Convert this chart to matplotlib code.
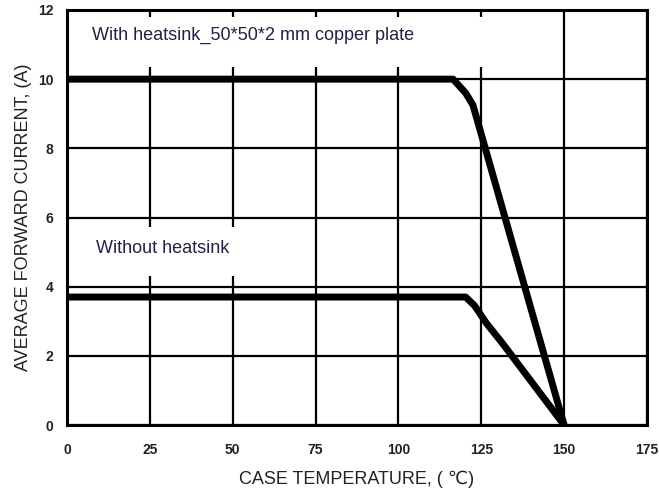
import matplotlib
matplotlib.use("Agg")
import matplotlib.pyplot as plt
from matplotlib.patches import Rectangle

# derating curves
temp_hs    = [0, 116.5, 120.3, 122.5, 150]
current_hs = [10, 10, 9.6, 9.25, 0]

temp_nohs    = [0, 120.3, 123.0, 126.5, 131.5, 150]
current_nohs = [3.7, 3.7, 3.45, 2.95, 2.35, 0]

xticks = [0, 25, 50, 75, 100, 125, 150, 175]
yticks = [0, 2, 4, 6, 8, 10, 12]

plt.rcParams["font.family"] = ["Liberation Sans", "DejaVu Sans"]

fig = plt.figure(figsize=(6.59, 4.95), dpi=100)
ax = fig.add_axes([0.1017, 0.1414, 0.880, 0.8384])

ax.set_xlim(0, 175)
ax.set_ylim(0, 12)
ax.set_xticks(xticks)
ax.set_yticks(yticks)
ax.tick_params(length=0, labelsize=10, pad=13, colors="#222222")
ax.tick_params(axis="y", pad=10)
for lab in ax.get_xticklabels() + ax.get_yticklabels():
    lab.set_fontweight("bold")
ax.grid(True, color="black", lw=1.6, zorder=1)
ax.set_axisbelow(True)
for sp in ax.spines.values():
    sp.set_linewidth(2.2)
    sp.set_zorder(5)

# white boxes behind the curve labels (grid is cut there)
ax.add_patch(Rectangle((0, 10.35), 132, 1.45, facecolor="white", edgecolor="none", zorder=2))
ax.add_patch(Rectangle((0, 4.31), 62, 1.41, facecolor="white", edgecolor="none", zorder=2))
ax.text(7.5, 11.27, "With heatsink_50*50*2 mm copper plate", fontsize=13,
        va="center", color="#222244", zorder=3)
ax.text(8.8, 5.09, "Without heatsink", fontsize=13, va="center", color="#222244", zorder=3)

ax.plot(temp_hs, current_hs, color="black", lw=5, solid_joinstyle="round", zorder=4)
ax.plot(temp_nohs, current_nohs, color="black", lw=5, solid_joinstyle="round", zorder=4)

ax.set_xlabel("CASE TEMPERATURE, ( \u2103)", fontsize=13, color="#222222", labelpad=9.5)
ax.set_ylabel("AVERAGE FORWARD CURRENT, (A)", fontsize=13, color="#222222", labelpad=4)

fig.savefig("out.png", dpi=100)
